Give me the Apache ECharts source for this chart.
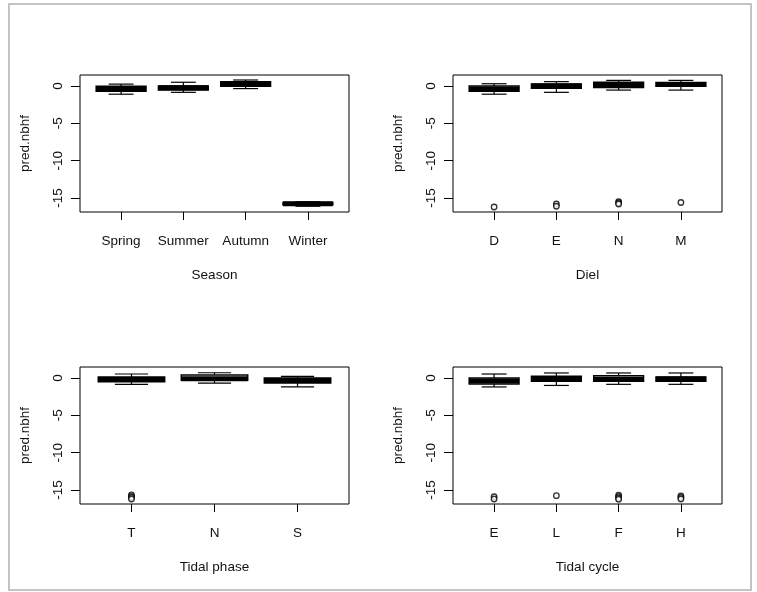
<!DOCTYPE html>
<html><head><meta charset="utf-8">
<script src="https://cdn.jsdelivr.net/npm/echarts@6/dist/echarts.min.js"></script>
<style>html,body{margin:0;padding:0;background:#fff}#c{width:757px;height:592px}</style>
</head><body><div id="c"></div>
<script>
// ---- data ----
const yTicks = [0, -5, -10, -15];

const seasonCats = ['Spring', 'Summer', 'Autumn', 'Winter'];
// [lo whisker, Q1, median, Q3, hi whisker]
const seasonBoxes = [
  [-1.1, -0.7, -0.4, -0.05, 0.25],
  [-0.85, -0.55, -0.25, 0.0, 0.5],
  [-0.35, -0.05, 0.25, 0.55, 0.8],
  [-16.1, -15.9, -15.75, -15.6, -15.5]
];
const seasonOutliers = [[], [], [], []];

const dielCats = ['D', 'E', 'N', 'M'];
const dielBoxes = [
  [-1.1, -0.7, -0.4, 0.0, 0.3],
  [-0.85, -0.3, 0.0, 0.25, 0.58],
  [-0.55, -0.2, 0.15, 0.5, 0.75],
  [-0.55, -0.05, 0.2, 0.45, 0.75]
];
const dielOutliers = [[-16.2], [-15.8, -16.1], [-15.5, -15.65, -15.8], [-15.6]];

const phaseCats = ['T', 'N', 'S'];
const phaseBoxes = [
  [-0.85, -0.5, -0.2, 0.13, 0.53],
  [-0.7, -0.3, -0.1, 0.4, 0.7],
  [-1.2, -0.67, -0.35, 0.0, 0.22]
];
const phaseOutliers = [[-15.65, -15.85, -16.0, -16.2], [], []];

const cycleCats = ['E', 'L', 'F', 'H'];
const cycleBoxes = [
  [-1.2, -0.8, -0.4, 0.0, 0.53],
  [-1.0, -0.45, -0.1, 0.22, 0.67],
  [-0.85, -0.45, -0.18, 0.3, 0.67],
  [-0.85, -0.45, -0.15, 0.13, 0.67]
];
const cycleOutliers = [[-15.9, -16.2], [-15.75], [-15.7, -15.9, -16.1, -16.25], [-15.8, -16.0, -16.2]];

const xTitles = ['Season', 'Diel', 'Tidal phase', 'Tidal cycle'];
const yTitle = 'pred.nbhf';

// ---- build ----
const panels = [
  {cats: seasonCats, boxes: seasonBoxes, outs: seasonOutliers, left: 80, top: 75},
  {cats: dielCats, boxes: dielBoxes, outs: dielOutliers, left: 453, top: 75},
  {cats: phaseCats, boxes: phaseBoxes, outs: phaseOutliers, left: 80, top: 367},
  {cats: cycleCats, boxes: cycleBoxes, outs: cycleOutliers, left: 453, top: 367}
];
const FONT = '"Liberation Sans", Arial, sans-serif';
const TXT = '#111';

function renderBox(params, api) {
  const x = api.value(0), lo = api.value(1), q1 = api.value(2), med = api.value(3), q3 = api.value(4), hi = api.value(5);
  const half = 0.4, cap = 0.2;
  const c = api.coord([x, med]);
  const tl = api.coord([x - half, q3]);
  const br = api.coord([x + half, q1]);
  const yHi = api.coord([x, hi])[1], yLo = api.coord([x, lo])[1];
  const capL = api.coord([x - cap, hi])[0], capR = api.coord([x + cap, hi])[0];
  const pts = [
    [[capL, yHi], [capR, yHi]],
    [[c[0], yHi], [c[0], tl[1]]],
    [[c[0], br[1]], [c[0], yLo]],
    [[capL, yLo], [capR, yLo]]
  ];
  const children = pts.map(seg => ({
    type: 'polyline', shape: {points: seg}, style: {stroke: '#000', lineWidth: 1.2, fill: null}
  }));
  children.push({type: 'rect', shape: {x: tl[0], y: tl[1], width: br[0] - tl[0], height: br[1] - tl[1]},
    style: {stroke: '#000', lineWidth: 1.5, fill: '#fff'}});
  children.push({type: 'polyline', shape: {points: [[tl[0], c[1]], [br[0], c[1]]]},
    style: {stroke: '#000', lineWidth: 5, fill: null}});
  return {type: 'group', children: children};
}

const grid = [], xAxis = [], yAxis = [], series = [];
panels.forEach((p, i) => {
  const n = p.cats.length;
  grid.push({left: p.left, top: p.top, width: 269, height: 137, show: true, borderColor: '#000', borderWidth: 1, backgroundColor: 'transparent'});
  const xv = p.cats.map((_, k) => k + 1);
  xAxis.push({
    type: 'value', gridIndex: i, position: 'bottom', min: 0.5 - 0.04 * n, max: n + 0.5 + 0.04 * n,
    axisLine: {show: false, onZero: false}, splitLine: {show: false},
    axisTick: {show: true, customValues: xv, length: 8, lineStyle: {color: '#000'}},
    axisLabel: {customValues: xv, formatter: v => p.cats[Math.round(v) - 1] || '', margin: 22, fontSize: 13.5, color: TXT, fontFamily: FONT},
    name: xTitles[i], nameLocation: 'middle', nameGap: 56,
    nameTextStyle: {fontSize: 13.5, color: TXT, fontFamily: FONT}
  });
  yAxis.push({
    type: 'value', gridIndex: i, position: 'left', min: -16.87, max: 1.47,
    axisLine: {show: false, onZero: false}, splitLine: {show: false},
    axisTick: {show: true, customValues: yTicks, length: 9, lineStyle: {color: '#000'}},
    axisLabel: {customValues: yTicks, rotate: 90, margin: 15, fontSize: 13.5, color: TXT, fontFamily: FONT},
    name: yTitle, nameLocation: 'middle', nameGap: 48,
    nameTextStyle: {fontSize: 13.5, color: TXT, fontFamily: FONT}
  });
  series.push({
    type: 'custom', xAxisIndex: i, yAxisIndex: i, renderItem: renderBox,
    data: p.boxes.map((b, k) => [k + 1].concat(b)),
    encode: {x: 0, y: [1, 2, 3, 4, 5]}, silent: true, animation: false, clip: false
  });
  const pts = [];
  p.outs.forEach((arr, k) => arr.forEach(v => pts.push([k + 1, v])));
  series.push({
    type: 'scatter', xAxisIndex: i, yAxisIndex: i, data: pts,
    symbol: 'circle', symbolSize: 5.5,
    itemStyle: {color: '#fff', borderColor: '#000', borderWidth: 1.3},
    silent: true, animation: false
  });
});

const chart = echarts.init(document.getElementById('c'), null, {renderer: 'canvas'});
chart.setOption({
  backgroundColor: '#fff',
  animation: false,
  grid, xAxis, yAxis, series,
  graphic: [{type: 'rect', shape: {x: 9, y: 4, width: 742, height: 586}, style: {fill: null, stroke: '#c4c4c4', lineWidth: 2}, silent: true}]
});
</script>
</body></html>
